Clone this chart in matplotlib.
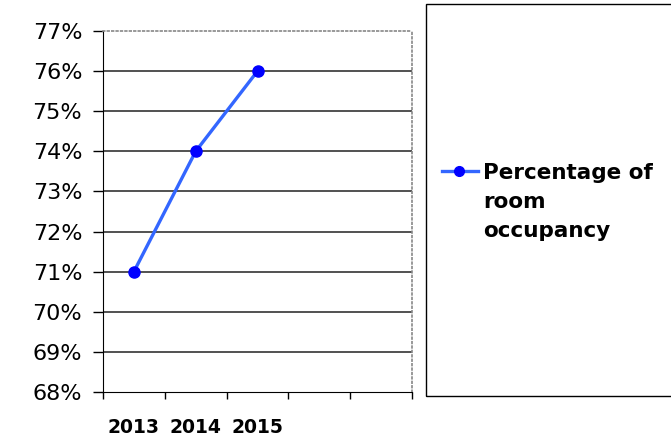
import matplotlib
matplotlib.use("Agg")
import matplotlib.pyplot as plt
from matplotlib.lines import Line2D
from matplotlib.patches import Rectangle

years = ["2013", "2014", "2015"]
occupancy = [71, 74, 76]
n_slots = 5
y_ticks = list(range(68, 78))
series_name = "Percentage of\nroom\noccupancy"

LINE_COLOR = "#3366FF"
MARKER_COLOR = "#0000FF"

plt.rcParams["font.family"] = ["DejaVu Sans"]

W, H = 671, 441
fig = plt.figure(figsize=(W / 100, H / 100), dpi=100)
ax = fig.add_axes([103 / W, 1 - 392 / H, (412 - 103) / W, (392 - 31) / H])

x = [i + 0.5 for i in range(len(years))]
ax.plot(x, occupancy, color=LINE_COLOR, lw=2.4, zorder=3)
ax.plot(x, occupancy, "o", color=MARKER_COLOR, ms=8, zorder=4)

ax.set_xlim(0, n_slots)
ax.set_ylim(y_ticks[0], y_ticks[-1])
ax.set_yticks(y_ticks)
ax.set_yticklabels([f"{v}%" for v in y_ticks], fontsize=16)
ax.tick_params(axis="y", length=7, width=1, direction="out", pad=8, colors="black")

ax.set_xticks(range(n_slots + 1))
ax.set_xticklabels([])
ax.tick_params(axis="x", which="major", length=5, width=1, direction="out")
ax.set_xticks(x, minor=True)
ax.set_xticklabels(years, minor=True, fontsize=13.5, fontweight="bold")
ax.tick_params(axis="x", which="minor", length=0, pad=19)

for v in y_ticks[1:-1]:
    ax.axhline(v, color="#222222", lw=1.1, zorder=1)

ax.spines["left"].set_color("black")
ax.spines["bottom"].set_color("black")
for s in ("top", "right"):
    ax.spines[s].set_linestyle(":")
    ax.spines[s].set_color("#888888")
    ax.spines[s].set_linewidth(1.2)

# legend box with its single entry
fig.add_artist(Rectangle((426 / W, 1 - 396 / H), 260 / W, 392 / H,
                         transform=fig.transFigure, fill=False,
                         edgecolor="black", lw=1, clip_on=False))
key_y = 1 - 171 / H
fig.add_artist(Line2D([442 / W, 478 / W], [key_y, key_y], transform=fig.transFigure,
                      color=LINE_COLOR, lw=2.4))
fig.add_artist(Line2D([459 / W], [key_y], transform=fig.transFigure, marker="o",
                      color=MARKER_COLOR, ms=7, lw=0))
fig.text(483 / W, 1 - 237 / H, series_name, ha="left", va="baseline",
         fontsize=15.5, fontweight="bold", linespacing=1.55)

fig.savefig("out.png", dpi=100)
